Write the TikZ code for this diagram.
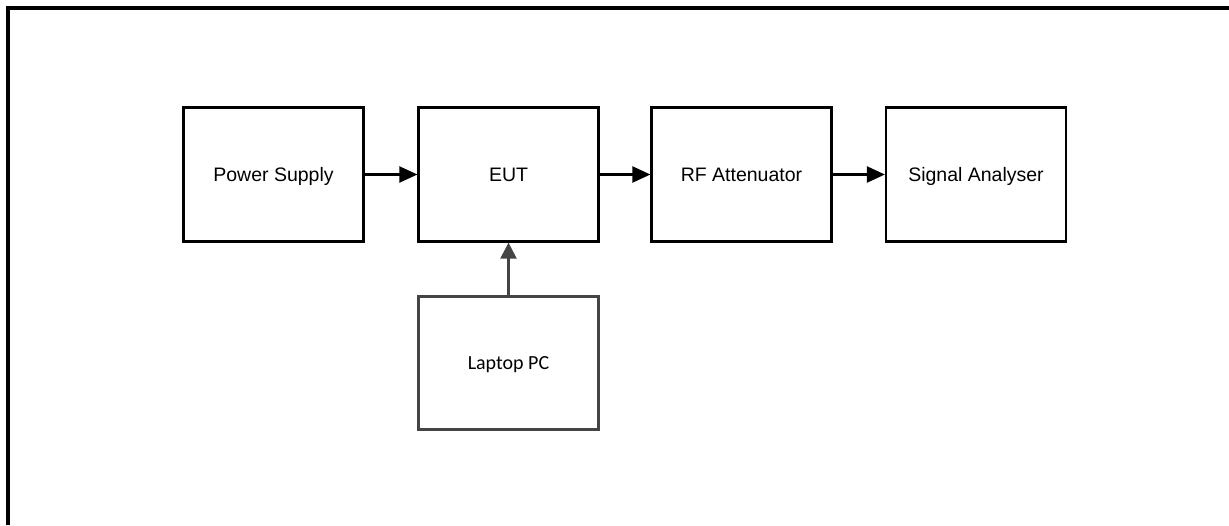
\documentclass[tikz,border=0pt]{standalone}
\usepackage{fontspec}
\setmainfont{Liberation Sans}
\newfontfamily\calfont{Carlito}
\usetikzlibrary{arrows.meta}
\definecolor{gline}{HTML}{444444}
\tikzset{
  blk/.style={draw=black, line width=2.2pt, minimum width=180pt, minimum height=134pt, inner sep=0pt, text height=14pt, text depth=0pt, font=\fontsize{19.5}{22}\selectfont},
  gblk/.style={draw=gline, line width=2.2pt, minimum width=180pt, minimum height=133pt, inner sep=0pt, text height=13pt, text depth=0pt, font=\calfont\fontsize{20}{23}\selectfont},
  arr/.style={line width=2.2pt, -{Triangle[length=18pt,width=16pt]}},
  garr/.style={draw=gline, line width=2.2pt, -{Triangle[length=16pt,width=16pt]}, gline},
  frame/.style={line width=4pt, line join=miter}
}
\begin{document}
\begin{tikzpicture}[x=1pt,y=-1pt]
\useasboundingbox (0,0) rectangle (1229,525);
\coordinate (fb) at (8,525);
\coordinate (fc) at (8,8);
\coordinate (fr) at (1229,8);
\draw[frame] (fb) -- (fc) -- (fr);
\node[blk] (ps) at (273.5,174.5) {Power Supply};
\node[blk] (eut) at (508.5,174.5) {EUT};
\node[blk] (rf) at (741.5,174.5) {RF Attenuator};
\node[blk] (sa) at (976,174.5) {Signal Analyser};
\node[gblk] (pc) at (508.5,363) {Laptop PC};
\draw[arr] (ps) -- (eut);
\draw[arr] (eut) -- (rf);
\draw[arr] (rf) -- (sa);
\draw[garr] (pc) -- (eut);
\end{tikzpicture}
\end{document}
